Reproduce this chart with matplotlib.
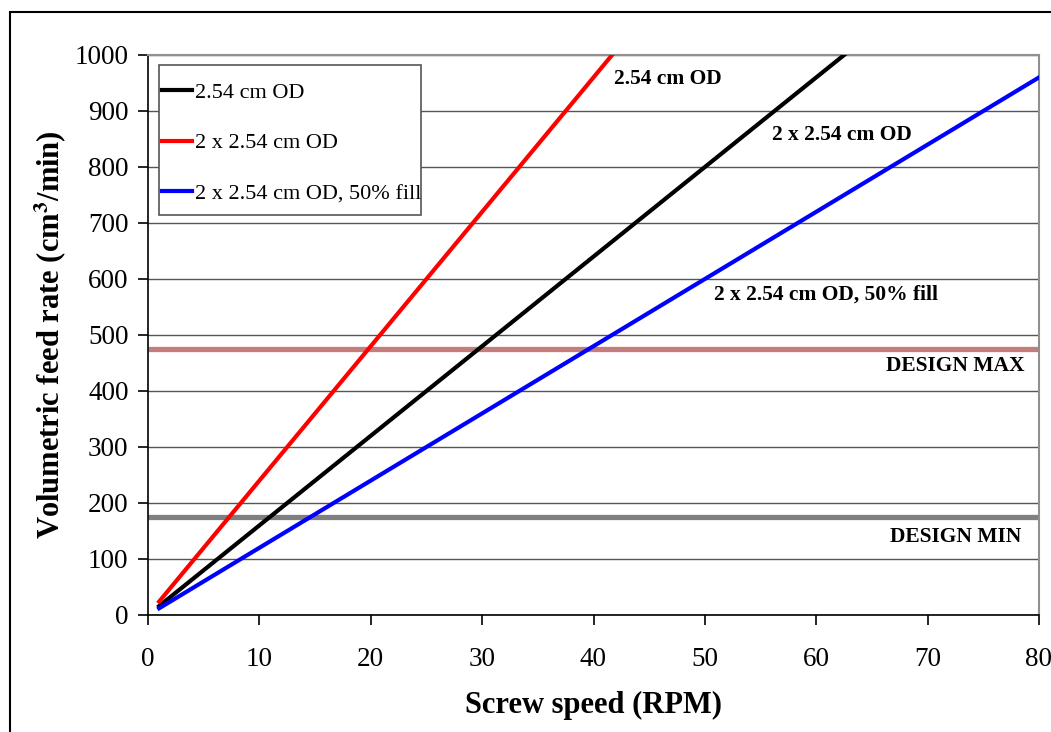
import matplotlib
matplotlib.use("Agg")
import matplotlib.pyplot as plt
from matplotlib.patches import Rectangle

plt.rcParams['font.family'] = ['Liberation Serif', 'DejaVu Serif']
plt.rcParams['mathtext.fontset'] = 'stix'

# Data
rpm = [1, 10, 20, 30, 40, 50, 60, 70, 80]
single_od = [16, 160, 320, 480, 640, 800, 960, 1120, 1280]
double_od = [24, 240, 480, 720, 960, 1200, 1440, 1680, 1920]
double_od_half = [12, 120, 240, 360, 480, 600, 720, 840, 960]
design_x = [0, 80]
design_max = [475, 475]
design_min = [175, 175]

legend_labels = ["2.54 cm OD", "2 x 2.54 cm OD", "2 x 2.54 cm OD, 50% fill"]
annotations = [
    ("2.54 cm OD", 41.8, 957),
    ("2 x 2.54 cm OD", 56.0, 857),
    ("2 x 2.54 cm OD, 50% fill", 50.8, 573),
    ("DESIGN MAX", 66.3, 445),
    ("DESIGN MIN", 66.6, 139),
]
xticks = list(range(0, 81, 10))
yticks = list(range(0, 1001, 100))

W, H = 1051, 732
fig = plt.figure(figsize=(W / 100, H / 100), dpi=100)
fig.patch.set_facecolor('white')

# outer border
fig.patches.append(Rectangle((10 / W, -0.1), 1.2, (H - 12) / H + 0.1,
                             transform=fig.transFigure, fill=False,
                             edgecolor='black', linewidth=1.5))

left, right, top, bottom = 148, 1039, 55, 615
ax = fig.add_axes([left / W, 1 - bottom / H, (right - left) / W, (bottom - top) / H])

def ax_xy(px, py):
    return ((px - left) / (right - left), 1 - (py - top) / (bottom - top))

ax.set_xlim(0, 80)
ax.set_ylim(0, 1000)
ax.set_xticks(xticks)
ax.set_yticks(yticks)
ax.yaxis.grid(True, color='#555555', linewidth=1.0)
ax.set_axisbelow(True)

ax.plot(design_x, design_max, color='#C47C7C', linewidth=3.8, solid_capstyle='butt', zorder=2)
ax.plot(design_x, design_min, color='#808080', linewidth=3.8, solid_capstyle='butt', zorder=2)

l1, = ax.plot(rpm, single_od, color='black', linewidth=3.0, zorder=3)
l2, = ax.plot(rpm, double_od, color='#FF0000', linewidth=3.0, zorder=3)
l3, = ax.plot(rpm, double_od_half, color='#0000FF', linewidth=3.0, zorder=3)

for txt, x, y in annotations:
    ax.text(x, y, txt, fontsize=15.5, fontweight='bold', ha='left', va='center', zorder=4)

# legend frame (drawn separately for tight horizontal padding)
x0, y0 = ax_xy(159, 215)
x1, y1 = ax_xy(421, 65)
ax.add_patch(Rectangle((x0, y0), x1 - x0, y1 - y0, transform=ax.transAxes,
                       facecolor='white', edgecolor='#555555', linewidth=1.2, zorder=5))

leg = ax.legend([l1, l2, l3], legend_labels, loc='upper left',
                bbox_to_anchor=ax_xy(162, 82),
                fontsize=16, frameon=False, handlelength=1.35,
                handletextpad=0.12, borderaxespad=0, labelspacing=1.36,
                borderpad=0)
leg.set_zorder(6)

for s in ['top', 'right']:
    ax.spines[s].set_color('#909090')
    ax.spines[s].set_linewidth(1.5)
for s in ['left', 'bottom']:
    ax.spines[s].set_color('black')
    ax.spines[s].set_linewidth(1.2)

ax.tick_params(axis='both', direction='out', length=7, width=1.2, labelsize=19.5)
ax.tick_params(axis='y', pad=7)
ax.tick_params(axis='x', pad=16)

ax.set_xlabel("Screw speed (RPM)", fontsize=22, fontweight='bold', labelpad=14)
ax.set_ylabel("Volumetric feed rate (cm$^\\mathbf{3}$/min)", fontsize=22, fontweight='bold', labelpad=4)

fig.savefig("out.png", dpi=100, facecolor='white')
